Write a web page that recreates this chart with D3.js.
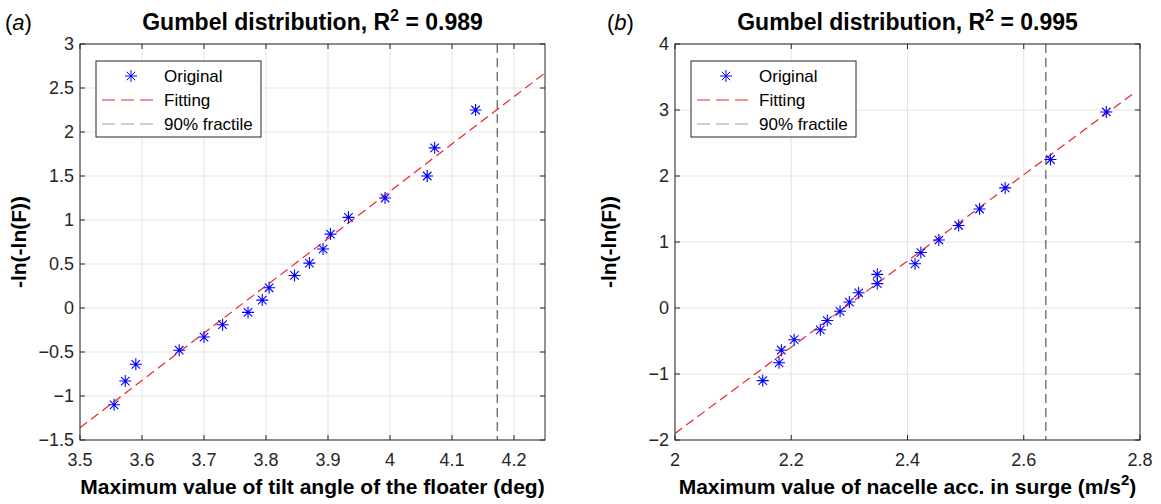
<!DOCTYPE html>
<html>
<head>
<meta charset="utf-8">
<title>Gumbel fits</title>
<script src="https://d3js.org/d3.v7.min.js"></script>
<style>
  body { margin: 0; background: #fff; }
  svg { font-family: "Liberation Sans", Arial, sans-serif; }
  .grid line { stroke: #e3e3e3; stroke-width: 1; }
  .tick-lbl { font-size: 18px; fill: #262626; }
  .ttl { font-size: 23px; font-weight: bold; fill: #000; }
  .axlbl { font-size: 21px; font-weight: bold; fill: #000; }
  .leg text { font-size: 17px; fill: #000; }
</style>
</head>
<body>
<div id="chart"></div>
<script>
// ---- data ----
// (a) tilt angle of the floater
var tiltX = [3.555, 3.573, 3.590, 3.660, 3.700, 3.730, 3.771, 3.794, 3.805, 3.846,
             3.870, 3.892, 3.904, 3.933, 3.992, 4.060, 4.072, 4.138];
var tiltY = [-1.10, -0.83, -0.64, -0.48, -0.33, -0.19, -0.05, 0.09, 0.23, 0.37,
             0.51, 0.67, 0.84, 1.03, 1.25, 1.50, 1.82, 2.25];
var tiltFitX = [3.5, 4.25];
var tiltFitY = [-1.36, 2.67];
var tiltFractile = 4.173;
var tiltXTicks = [3.5, 3.6, 3.7, 3.8, 3.9, 4.0, 4.1, 4.2];
var tiltYTicks = [-1.5, -1, -0.5, 0, 0.5, 1, 1.5, 2, 2.5, 3];

// (b) nacelle acceleration in surge
var accX = [2.151, 2.179, 2.183, 2.205, 2.250, 2.262, 2.284, 2.300, 2.316, 2.348,
            2.348, 2.413, 2.423, 2.454, 2.488, 2.524, 2.568, 2.646, 2.742];
var accY = [-1.10, -0.83, -0.64, -0.48, -0.33, -0.19, -0.05, 0.09, 0.23, 0.37,
            0.51, 0.67, 0.84, 1.03, 1.25, 1.50, 1.82, 2.25, 2.97];
var accFitX = [2.0, 2.79];
var accFitY = [-1.90, 3.26];
var accFractile = 2.638;
var accXTicks = [2, 2.2, 2.4, 2.6, 2.8];
var accYTicks = [-2, -1, 0, 1, 2, 3, 4];

var legendLabels = ["Original", "Fitting", "90% fractile"];

var W = 1161, H = 504;
var svg = d3.select("#chart").append("svg")
  .attr("width", W).attr("height", H);

// MATLAB-like asterisk marker (plus + cross)
function star(r) {
  var d = r * 0.7071;
  return "M" + (-r) + ",0L" + r + ",0M0," + (-r) + "L0," + r +
         "M" + (-d) + "," + (-d) + "L" + d + "," + d +
         "M" + (-d) + "," + d + "L" + d + "," + (-d);
}

function drawPanel(p) {
  var x = d3.scaleLinear().domain(p.xDomain).range([p.left, p.right]);
  var y = d3.scaleLinear().domain(p.yDomain).range([p.bottom, p.top]);
  var g = svg.append("g");
  var fmt = function(v) { return d3.format("")(+v.toFixed(2)); };

  // grid
  var grid = g.append("g").attr("class", "grid");
  grid.selectAll(".gx").data(p.xTicks).enter().append("line")
    .attr("x1", function(d) { return x(d); }).attr("x2", function(d) { return x(d); })
    .attr("y1", p.top).attr("y2", p.bottom);
  grid.selectAll(".gy").data(p.yTicks).enter().append("line")
    .attr("y1", function(d) { return y(d); }).attr("y2", function(d) { return y(d); })
    .attr("x1", p.left).attr("x2", p.right);

  // fractile line
  g.append("line")
    .attr("x1", x(p.fractile)).attr("x2", x(p.fractile))
    .attr("y1", p.top).attr("y2", p.bottom)
    .attr("stroke", "#5a5a5a").attr("stroke-width", 1.2)
    .attr("stroke-dasharray", "9,5");

  // fit line
  var fit = p.fitX.map(function(v, i) { return [v, p.fitY[i]]; });
  g.append("path")
    .attr("d", d3.line().x(function(d) { return x(d[0]); }).y(function(d) { return y(d[1]); })(fit))
    .attr("fill", "none").attr("stroke", "#e8262b").attr("stroke-width", 1.2)
    .attr("stroke-dasharray", "9,5");

  // points
  g.selectAll(".pt").data(p.xs).enter().append("path")
    .attr("transform", function(d, i) { return "translate(" + x(d) + "," + y(p.ys[i]) + ")"; })
    .attr("d", star(6))
    .attr("stroke", "#0000ff").attr("stroke-width", 1.1).attr("fill", "none");

  // frame and inward ticks
  g.append("rect")
    .attr("x", p.left).attr("y", p.top)
    .attr("width", p.right - p.left).attr("height", p.bottom - p.top)
    .attr("fill", "none").attr("stroke", "#262626").attr("stroke-width", 1);

  var tk = 5;
  var ticks = g.append("g").attr("stroke", "#262626").attr("stroke-width", 1);
  p.xTicks.forEach(function(v) {
    ticks.append("line").attr("x1", x(v)).attr("x2", x(v)).attr("y1", p.bottom).attr("y2", p.bottom - tk);
    ticks.append("line").attr("x1", x(v)).attr("x2", x(v)).attr("y1", p.top).attr("y2", p.top + tk);
  });
  p.yTicks.forEach(function(v) {
    ticks.append("line").attr("y1", y(v)).attr("y2", y(v)).attr("x1", p.left).attr("x2", p.left + tk);
    ticks.append("line").attr("y1", y(v)).attr("y2", y(v)).attr("x1", p.right).attr("x2", p.right - tk);
  });

  // tick labels
  g.selectAll(".xl").data(p.xTicks).enter().append("text")
    .attr("class", "tick-lbl")
    .attr("x", function(d) { return x(d); }).attr("y", p.bottom + 26)
    .attr("text-anchor", "middle").text(fmt);
  g.selectAll(".yl").data(p.yTicks).enter().append("text")
    .attr("class", "tick-lbl")
    .attr("x", p.left - 6).attr("y", function(d) { return y(d) + 6; })
    .attr("text-anchor", "end").text(fmt);

  // title
  var cx = (p.left + p.right) / 2;
  var t = g.append("text").attr("class", "ttl")
    .attr("x", cx).attr("y", 30).attr("text-anchor", "middle");
  t.append("tspan").text("Gumbel distribution, R");
  t.append("tspan").attr("dy", -9).attr("font-size", "16px").text("2");
  t.append("tspan").attr("dy", 9).text(" = " + p.r2);

  // panel tag
  var tag = g.append("text").attr("x", p.tagX).attr("y", 30)
    .attr("font-size", "22px").attr("fill", "#000");
  tag.append("tspan").text("(");
  tag.append("tspan").attr("font-style", "italic").text(p.tag);
  tag.append("tspan").text(")");

  // axis labels
  var xl = g.append("text").attr("class", "axlbl")
    .attr("x", cx).attr("y", 494).attr("text-anchor", "middle");
  xl.append("tspan").text(p.xLabel);
  if (p.xLabelSup) {
    xl.append("tspan").attr("dy", -9).attr("font-size", "15px").text(p.xLabelSup);
    xl.append("tspan").attr("dy", 9).text(")");
  }
  g.append("text").attr("class", "axlbl")
    .attr("transform", "translate(" + p.yLabelX + "," + ((p.top + p.bottom) / 2) + ") rotate(-90)")
    .attr("text-anchor", "middle").attr("font-size", "23px").text("-ln(-ln(F))");

  // legend
  var lx = p.left + 16, ly = p.top + 17;
  var leg = g.append("g").attr("class", "leg");
  leg.append("rect").attr("x", lx).attr("y", ly).attr("width", 165).attr("height", 76)
    .attr("fill", "#fff").attr("stroke", "#262626").attr("stroke-width", 1);
  legendLabels.forEach(function(name, i) {
    var yy = ly + 15 + i * 24;
    if (i === 0) {
      leg.append("path").attr("transform", "translate(" + (lx + 35) + "," + yy + ")")
        .attr("d", star(6)).attr("stroke", "#0000ff").attr("fill", "none");
    } else {
      leg.append("line").attr("x1", lx + 6).attr("x2", lx + 63).attr("y1", yy).attr("y2", yy)
        .attr("stroke", i === 1 ? "#e8262b" : "#a0a0a0").attr("stroke-width", 1.2)
        .attr("stroke-dasharray", "13,6");
    }
    leg.append("text").attr("x", lx + 68).attr("y", yy + 6).text(name);
  });
}

drawPanel({
  left: 80, right: 545, top: 44, bottom: 440,
  xDomain: [3.5, 4.25], yDomain: [-1.5, 3],
  xTicks: tiltXTicks, yTicks: tiltYTicks,
  xs: tiltX, ys: tiltY, fitX: tiltFitX, fitY: tiltFitY, fractile: tiltFractile,
  r2: "0.989", tag: "a", tagX: 5, yLabelX: 26,
  xLabel: "Maximum value of tilt angle of the floater (deg)"
});

drawPanel({
  left: 675, right: 1140, top: 44, bottom: 440,
  xDomain: [2, 2.8], yDomain: [-2, 4],
  xTicks: accXTicks, yTicks: accYTicks,
  xs: accX, ys: accY, fitX: accFitX, fitY: accFitY, fractile: accFractile,
  r2: "0.995", tag: "b", tagX: 607, yLabelX: 616,
  xLabel: "Maximum value of nacelle acc. in surge (m/s", xLabelSup: "2"
});
</script>
</body>
</html>
